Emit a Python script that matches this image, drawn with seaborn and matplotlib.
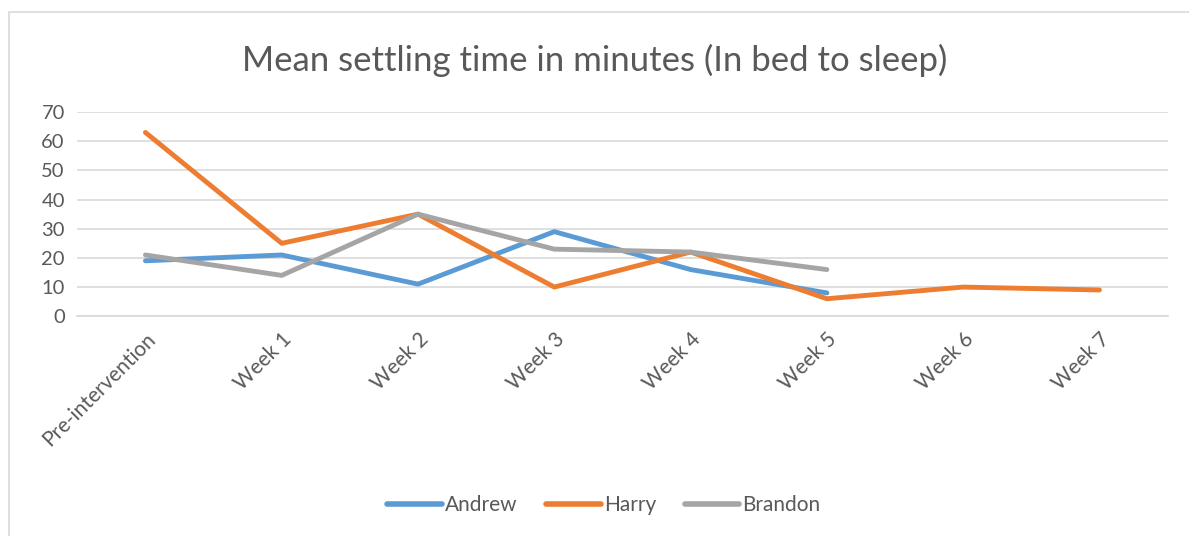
import matplotlib
matplotlib.use("Agg")
import matplotlib.pyplot as plt
import seaborn as sns
import pandas as pd
from matplotlib.patches import Rectangle

categories = ["Pre-intervention", "Week 1", "Week 2", "Week 3", "Week 4", "Week 5", "Week 6", "Week 7"]
andrew = [19, 21, 11, 29, 16, 8]
harry = [63, 25, 35, 10, 22, 6, 10, 9]
brandon = [21, 14, 35, 23, 22, 16]
series_names = ["Andrew", "Harry", "Brandon"]
colors = ["#5B9BD5", "#ED7D31", "#A5A5A5"]
yticks = [0, 10, 20, 30, 40, 50, 60, 70]
title = "Mean settling time in minutes (In bed to sleep)"

rows = []
for name, vals in zip(series_names, [andrew, harry, brandon]):
    for i, v in enumerate(vals):
        rows.append({"pos": i, "week": categories[i], "value": v, "child": name})
df = pd.DataFrame(rows)

sns.set_theme(style="white")
plt.rcParams["font.family"] = ["Lato", "DejaVu Sans"]

fig = plt.figure(figsize=(11.89, 5.36), dpi=100)
ax = fig.add_axes([0.065, 0.410, 0.917, 0.381])

sns.lineplot(data=df, x="pos", y="value", hue="child", hue_order=series_names,
             palette=colors, linewidth=3.5, ax=ax, legend=True,
             solid_capstyle="round")

ax.set_xlim(-0.5, len(categories) - 0.5)
ax.set_ylim(0, 70)
ax.set_yticks(yticks)
ax.set_yticklabels([str(t) for t in yticks], fontsize=14.5, color="#595959")
ax.set_xticks(range(len(categories)))
ax.set_xticklabels(categories, rotation=45, ha="right", va="top",
                   rotation_mode="anchor", fontsize=15, color="#595959")
ax.tick_params(axis="x", length=0, pad=9)
ax.tick_params(axis="y", length=0, pad=9)
ax.set_xlabel("")
ax.set_ylabel("")
ax.yaxis.grid(True, color="#D9D9D9", linewidth=1.2)
ax.set_axisbelow(True)
for s in ["top", "right", "left"]:
    ax.spines[s].set_visible(False)
ax.spines["bottom"].set_color("#D9D9D9")
ax.spines["bottom"].set_linewidth(1.2)

fig.text(0.5, 0.888, title, ha="center", va="center", fontsize=25, color="#595959")

handles, labels = ax.get_legend_handles_labels()
for h in handles:
    h.set_linewidth(4)
ax.legend(handles, labels, loc="center", bbox_to_anchor=(0.508, 0.058),
          bbox_transform=fig.transFigure, ncol=3, frameon=False,
          fontsize=15, handlelength=2.6, handletextpad=0.15, columnspacing=1.4,
          labelcolor="#595959")

fig.patches.append(Rectangle((9 / 1189, -0.01), 1.1, 1 - 12 / 536 + 0.01,
                             transform=fig.transFigure, fill=False,
                             edgecolor="#D9D9D9", linewidth=1.2))

fig.savefig("out.png", dpi=100)
